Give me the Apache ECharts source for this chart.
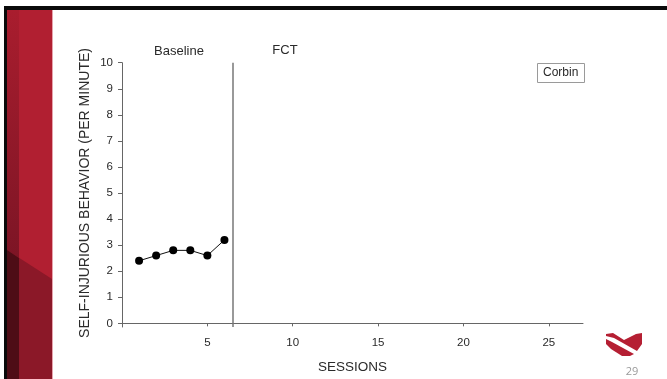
<!DOCTYPE html>
<html>
<head>
<meta charset="utf-8">
<script src="https://cdn.jsdelivr.net/npm/echarts@6/dist/echarts.min.js"></script>
<style>
  html, body { margin: 0; padding: 0; background: #fff; }
  #chart { width: 667px; height: 379px; }
</style>
</head>
<body>
<div id="chart"></div>
<script>
// Self-injurious behavior per session, baseline phase
const sessions = [1, 2, 3, 4, 5, 6];
const sibRate = [2.4, 2.6, 2.8, 2.8, 2.6, 3.2];
// Phase change between baseline and FCT
const phaseChange = 6.5;
const phaseNames = ['Baseline', 'FCT'];
const xTicks = [5, 10, 15, 20, 25];
const yTicks = [0, 1, 2, 3, 4, 5, 6, 7, 8, 9, 10];
const participant = 'Corbin';
const slideNumber = '29';

const font = 'Liberation Sans, Arial, sans-serif';
const textColor = '#2a2a2a';
const chart = echarts.init(document.getElementById('chart'), null, { renderer: 'canvas' });

const points = sessions.map((s, i) => [s, sibRate[i]]);

chart.setOption({
  animation: false,
  backgroundColor: '#ffffff',
  title: {
    text: participant,
    left: 537,
    top: 63,
    padding: [4, 6],
    borderColor: '#9a9a9a',
    borderWidth: 1,
    backgroundColor: '#fff',
    textStyle: { fontFamily: font, fontSize: 12, fontWeight: 'normal', color: textColor }
  },
  grid: { left: 122, right: 84, top: 62.7, bottom: 48, containLabel: false },
  xAxis: {
    type: 'value',
    min: 0,
    max: 27,
    name: 'SESSIONS',
    nameLocation: 'middle',
    nameGap: 33,
    nameTextStyle: { fontFamily: font, fontSize: 13.5, color: textColor },
    axisLine: { show: true, lineStyle: { color: '#666', width: 1 } },
    axisTick: { show: true, length: 3, customValues: xTicks, lineStyle: { color: '#666' } },
    axisLabel: { customValues: xTicks, margin: 10, fontFamily: font, fontSize: 11.5, color: textColor },
    splitLine: { show: false }
  },
  yAxis: {
    type: 'value',
    min: -0.14,
    max: 10,
    axisLine: { show: true, lineStyle: { color: '#666', width: 1 } },
    axisTick: { show: true, length: 4, customValues: yTicks, lineStyle: { color: '#666' } },
    axisLabel: { customValues: yTicks, margin: 9, fontFamily: font, fontSize: 11.5, color: textColor },
    splitLine: { show: false }
  },
  series: [{
    type: 'line',
    data: points,
    symbol: 'circle',
    symbolSize: 8,
    itemStyle: { color: '#000' },
    lineStyle: { color: '#111', width: 1 },
    markLine: {
      silent: true,
      symbol: 'none',
      label: { show: false },
      lineStyle: { color: '#777', width: 1.5, type: 'solid' },
      data: [{ xAxis: phaseChange }]
    },
    z: 5
  }],
  graphic: [
    // slide frame and red side band
    { type: 'rect', z: -10, shape: { x: 4, y: 6, width: 663, height: 4 }, style: { fill: '#0a0a0a' } },
    { type: 'rect', z: -10, shape: { x: 4, y: 6, width: 3, height: 373 }, style: { fill: '#0a0a0a' } },
    { type: 'rect', z: -10, shape: { x: 7, y: 10, width: 45, height: 369 }, style: { fill: '#b11f31' } },
    { type: 'rect', z: -9, shape: { x: 7, y: 10, width: 12, height: 250 },
      style: { fill: new echarts.graphic.LinearGradient(0, 0, 0, 1, [
        { offset: 0, color: '#a91d2e' }, { offset: 1, color: '#7c1525' }]) } },
    { type: 'polygon', z: -8, shape: { points: [[7, 250], [52, 279], [52, 379], [7, 379]] }, style: { fill: '#8b1828' } },
    { type: 'polygon', z: -7, shape: { points: [[7, 250], [19, 258], [19, 379], [7, 379]] }, style: { fill: '#4e0d16' } },
    { type: 'rect', z: -7, shape: { x: 52, y: 10, width: 1, height: 369 }, style: { fill: '#e6a3ad' } },
    // phase labels
    { type: 'text', x: 179, y: 51, style: { text: phaseNames[0], fontFamily: font, fontSize: 13, fill: textColor, align: 'center', verticalAlign: 'middle' } },
    { type: 'text', x: 285, y: 50, style: { text: phaseNames[1], fontFamily: font, fontSize: 13, fill: textColor, align: 'center', verticalAlign: 'middle' } },
    // y-axis title
    { type: 'text', x: 85, y: 193, rotation: Math.PI / 2,
      style: { text: 'SELF-INJURIOUS BEHAVIOR (PER MINUTE)', fontFamily: font, fontSize: 14, fill: textColor, align: 'center', verticalAlign: 'middle' } },
    // shield logo
    { type: 'polygon', shape: { points: [[606, 334], [613, 333], [624, 340], [636, 334], [642, 333], [642, 344], [637, 351], [614, 338], [606, 336]] }, style: { fill: '#b51f33' } },
    { type: 'polygon', shape: { points: [[606, 339], [612, 342], [634, 354], [630, 356], [622, 356], [611, 349], [606, 344]] }, style: { fill: '#b51f33' } },
    // slide number
    { type: 'text', x: 632, y: 372, style: { text: slideNumber, fontFamily: 'Open Sans, sans-serif', fontSize: 11, fill: '#9a9a9a', align: 'center', verticalAlign: 'middle' } }
  ]
});
</script>
</body>
</html>
